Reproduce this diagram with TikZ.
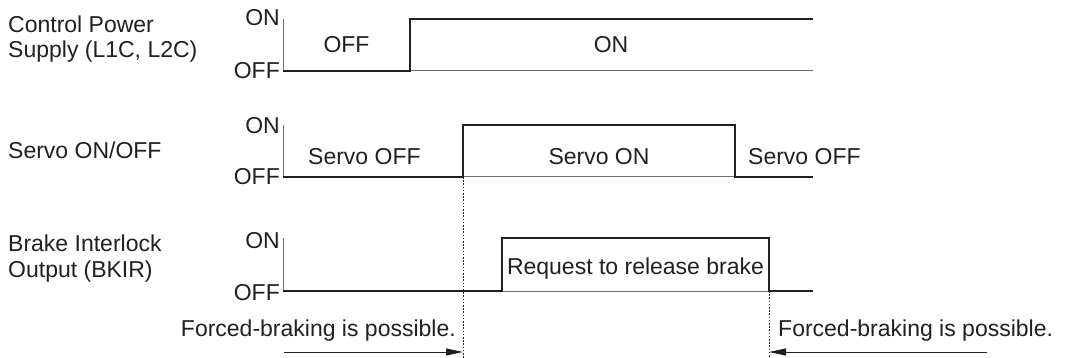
\documentclass[tikz,border=0pt]{standalone}
\usepackage{fontspec}
\setmainfont{Liberation Sans}
\usetikzlibrary{arrows.meta}
\definecolor{ink}{RGB}{35,31,32}
\definecolor{thin}{RGB}{110,110,110}
\begin{document}
\begin{tikzpicture}[x=1pt,y=-1pt,
  lbl/.style={inner sep=0pt, font=\fontsize{23}{25}\selectfont, text=ink},
  wave/.style={draw=ink, line width=2pt, line join=miter},
  refl/.style={draw=thin, line width=1pt},
  guide/.style={draw=ink, line width=0.9pt, dash pattern=on 1.6pt off 1.6pt},
  arr/.style={draw=ink, line width=1pt, -{Triangle[length=17pt,width=7pt]}}]
\useasboundingbox (0,0) rectangle (1066,358);

% left labels
\node[lbl, anchor=base west] (t1a) at (8,33) {Control Power};
\node[lbl, anchor=base west] (t1b) at (8,58) {Supply (L1C, L2C)};
\node[lbl, anchor=base west] (t2) at (8,159) {Servo ON/OFF};
\node[lbl, anchor=base west] (t3a) at (8,252) {Brake Interlock};
\node[lbl, anchor=base west] (t3b) at (8,277) {Output (BKIR)};

% level labels
\node[lbl, anchor=base east] (on1) at (280,26) {ON};
\node[lbl, anchor=base east] (off1) at (280,79) {OFF};
\node[lbl, anchor=base east] (on2) at (280,134) {ON};
\node[lbl, anchor=base east] (off2) at (280,185) {OFF};
\node[lbl, anchor=base east] (on3) at (280,249) {ON};
\node[lbl, anchor=base east] (off3) at (280,300) {OFF};

% row 1
\draw[refl] (283,19) -- (283,71);
\draw[refl] (410,71) -- (813,71);
\draw[wave] (283,71) -- (410,71) -- (410,19) -- (813,19);
\node[lbl, anchor=base] (s1a) at (346.5,53) {OFF};
\node[lbl, anchor=base] (s1b) at (611,53) {ON};

% row 2
\draw[refl] (283,125) -- (283,177);
\draw[refl] (463,177) -- (735,177);
\draw[wave] (283,177) -- (463,177) -- (463,125) -- (735,125) -- (735,177) -- (813,177);
\node[lbl, anchor=base west] (s2a) at (308,165) {Servo OFF};
\node[lbl, anchor=base] (s2b) at (599,165) {Servo ON};
\node[lbl, anchor=base west] (s2c) at (748,165) {Servo OFF};

% row 3
\draw[refl] (283,238) -- (283,291);
\draw[refl] (502,291) -- (769,291);
\draw[wave] (283,291) -- (502,291) -- (502,238) -- (769,238) -- (769,291) -- (813,291);
\node[lbl, anchor=base] (s3) at (635.5,275) {Request to release brake};

% guides
\coordinate (g1top) at (463,177);
\coordinate (g1bot) at (463,358);
\coordinate (g2top) at (769,291);
\coordinate (g2bot) at (769,358);
\draw[guide] (g1top) -- (g1bot);
\draw[guide] (g2top) -- (g2bot);

% arrows
\coordinate (a1s) at (284,352);
\coordinate (a1e) at (463,352);
\coordinate (a2s) at (987,352);
\coordinate (a2e) at (769,352);
\draw[arr] (a1s) -- (a1e);
\draw[arr] (a2s) -- (a2e);
\node[lbl, anchor=base east] (f1) at (456,336) {Forced-braking is possible.};
\node[lbl, anchor=base west] (f2) at (778,336) {Forced-braking is possible.};
\end{tikzpicture}
\end{document}
